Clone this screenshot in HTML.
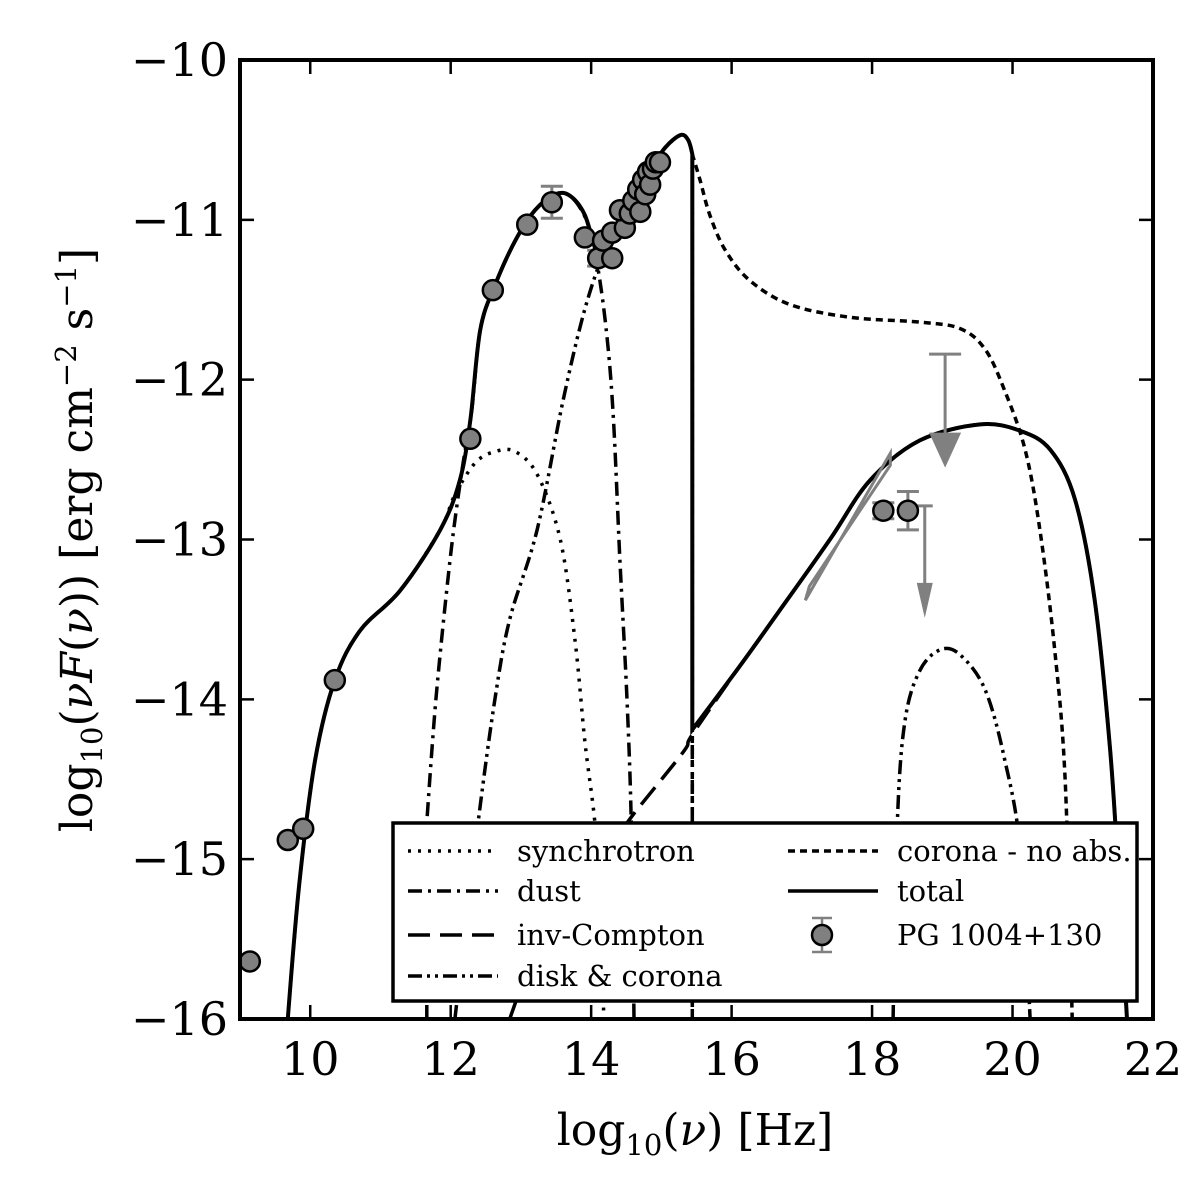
<!DOCTYPE html>
<html><head><meta charset="utf-8"><style>
body{margin:0;background:#fff}
svg{display:block}
text{font-family:"DejaVu Serif","Liberation Serif",serif;fill:#000}
</style></head><body>
<svg id="chart" width="1200" height="1200" viewBox="0 0 1200 1200" xmlns="http://www.w3.org/2000/svg">
<rect width="1200" height="1200" fill="#fff"/>
<defs><clipPath id="pc"><rect x="240" y="60" width="913" height="959"/></clipPath></defs>
<g id="curves" clip-path="url(#pc)"></g>
<g id="marks" clip-path="url(#pc)"></g>
<g id="axes"></g>
<g id="legend"></g>
<text x="695" y="1145" font-size="44" text-anchor="middle">log<tspan font-size="29" dy="10">10</tspan><tspan dy="-10">(</tspan><tspan font-style="italic">ν</tspan>) [Hz]</text>
<text transform="translate(92,540) rotate(-90)" font-size="44" text-anchor="middle">log<tspan font-size="29" dy="10">10</tspan><tspan dy="-10">(</tspan><tspan font-style="italic">νF</tspan>(<tspan font-style="italic">ν</tspan>)) [erg cm<tspan font-size="29" dy="-16">−2</tspan><tspan dy="16"> s</tspan><tspan font-size="29" dy="-16">−1</tspan><tspan dy="16">]</tspan></text>
</svg>
<script>
const xTicks=[10,12,14,16,18,20,22];
const yTicks=[-10,-11,-12,-13,-14,-15,-16];
const totalX=[9.68,9.85,10.07,10.35,10.71,11.28,11.85,12.13,12.28,12.42,12.63,12.92,13.20,13.49,13.70,13.91,14.10,14.27,14.56,14.84,15.05,15.27,15.38,15.44,15.44,16.12,16.69,17.40,17.97,18.68,19.54,20.11,20.54,20.89,21.17,21.39,21.53,21.63];
const totalY=[-16,-15.13,-14.38,-13.88,-13.57,-13.32,-12.94,-12.63,-12.25,-11.69,-11.41,-11.13,-10.94,-10.84,-10.85,-10.97,-11.22,-11.16,-10.91,-10.69,-10.55,-10.47,-10.50,-10.59,-14.19,-13.79,-13.44,-13.00,-12.63,-12.38,-12.28,-12.32,-12.44,-12.75,-13.38,-14.32,-15.26,-16];
const syncX=[9.68,9.85,10.07,10.35,10.71,11.28,11.85,12.06,12.35,12.63,12.92,13.24,13.56,13.77,13.91,14.05,14.13,14.18];
const syncY=[-16,-15.13,-14.38,-13.88,-13.57,-13.32,-12.94,-12.72,-12.52,-12.45,-12.45,-12.60,-13.00,-13.63,-14.26,-14.76,-15.26,-16];
const dustX=[11.66,11.66,11.79,11.99,12.16,12.30,12.42,12.63,12.92,13.20,13.49,13.70,13.91,14.05,14.20,14.31,14.41,14.51,14.57,14.61];
const dustY=[-16,-14.77,-14.0,-13.13,-12.57,-12.19,-11.69,-11.41,-11.13,-10.94,-10.84,-10.85,-10.98,-11.19,-11.63,-12.19,-13.13,-14.0,-14.76,-16];
const icX=[12.84,13.0,null,14.45,14.60,15.31,15.44,16.12,16.69,17.40,17.97,18.68,19.54,20.11,20.54,20.89,21.17,21.39,21.53,21.63];
const icY=[-16,-15.8,null,-14.82,-14.72,-14.33,-14.22,-13.79,-13.44,-13.00,-12.63,-12.38,-12.28,-12.32,-12.44,-12.75,-13.38,-14.32,-15.26,-16];
const diskX=[12.06,12.39,12.63,12.84,13.23,13.60,13.91,14.20,14.56,14.84,15.05,15.27,15.38,15.44,15.44,null,18.30,18.36,18.47,18.68,18.97,19.25,19.61,19.89,20.11,20.25];
const diskY=[-16,-14.77,-14.0,-13.50,-12.94,-12.13,-11.56,-11.19,-10.91,-10.69,-10.55,-10.47,-10.50,-10.59,-16,null,-16,-14.76,-14.13,-13.82,-13.69,-13.72,-13.94,-14.38,-14.94,-16];
const coronaX=[15.44,15.44,15.55,15.69,15.91,16.26,16.83,17.69,18.68,19.25,19.61,19.89,20.18,20.39,20.60,20.75,20.85];
const coronaY=[-16,-10.59,-10.75,-10.97,-11.19,-11.38,-11.53,-11.61,-11.64,-11.68,-11.81,-12.07,-12.44,-12.94,-13.69,-14.51,-16];
const obsX=[9.14,9.68,9.90,10.35,12.28,12.60,13.09,13.44,13.91,14.10,14.17,14.30,14.48,14.41,14.55,14.60,14.67,14.70,14.74,14.77,14.81,14.84,14.88,14.92,14.98,14.30,18.16,18.51];
const obsY=[-15.64,-14.88,-14.81,-13.88,-12.37,-11.44,-11.03,-10.89,-11.11,-11.24,-11.13,-11.08,-11.05,-10.94,-10.96,-10.88,-10.81,-10.95,-10.75,-10.84,-10.70,-10.78,-10.68,-10.64,-10.64,-11.24,-12.82,-12.82];
const obsErr=[0,0,0,0,0,0,0,0.1,0,0.05,0,0,0,0,0,0,0,0,0,0,0,0,0,0,0,0,0.05,0.12];
const limX=[19.04,18.75];
const limTop=[-11.84,-12.79];
const limBot=[-12.55,-13.49];
const bowX=[17.05,18.26];
const bowY=[-13.38,-12.46];

const X0=240,X1=1153,Y0=60,Y1=1019;
const sx=v=>X0+(v-9)/(22-9)*(X1-X0);
const sy=v=>Y0+(-10-v)/6*(Y1-Y0);
const NS='http://www.w3.org/2000/svg';
function mk(tag,parent){const e=document.createElementNS(NS,tag);parent.appendChild(e);return e;}
function smoothSeg(pts){
  if(pts.length<2)return '';
  const vert=i=>(i>=0&&i<pts.length-1)&&Math.abs(pts[i][0]-pts[i+1][0])<0.5;
  const tan=i=>{
    if(vert(i-1)||vert(i)||i==0||i==pts.length-1)return [0,0];
    return [(pts[i+1][0]-pts[i-1][0])/6,(pts[i+1][1]-pts[i-1][1])/6];
  };
  let d='M'+pts[0][0].toFixed(1)+' '+pts[0][1].toFixed(1);
  for(let i=0;i<pts.length-1;i++){
    const a=pts[i],b=pts[i+1];
    if(vert(i)){d+='L'+b[0].toFixed(1)+' '+b[1].toFixed(1);continue;}
    const t0=tan(i),t1=tan(i+1);
    d+='C'+(a[0]+t0[0]).toFixed(1)+' '+(a[1]+t0[1]).toFixed(1)+' '+(b[0]-t1[0]).toFixed(1)+' '+(b[1]-t1[1]).toFixed(1)+' '+b[0].toFixed(1)+' '+b[1].toFixed(1);
  }
  return d;
}
function pathD(xs,ys){let d='',seg=[];for(let i=0;i<=xs.length;i++){if(i==xs.length||xs[i]===null){d+=smoothSeg(seg);seg=[];continue;}seg.push([sx(xs[i]),sy(ys[i])]);}return d;}
const curves=document.getElementById('curves');
function line(xs,ys,dash,name,w){const p=mk('path',curves);p.setAttribute('d',pathD(xs,ys));p.setAttribute('fill','none');p.setAttribute('stroke','#000');p.setAttribute('stroke-width',w||3.5);if(dash)p.setAttribute('stroke-dasharray',dash);

}
line(syncX,syncY,'3 7','synchrotron-curve');
line(dustX,dustY,'14 6 3 6','dust-curve');
line(icX,icY,'22 10','inv-compton-curve');
line(diskX,diskY,'14 5 3 5 3 5','disk-corona-curve');
line(coronaX,coronaY,'7 5','corona-no-abs-curve');
line(totalX,totalY,null,'total-curve',4);

const marks=document.getElementById('marks');
const G='#808080';
const bw=mk('polygon',marks);
bw.setAttribute('points',`${sx(bowX[0])},${sy(bowY[0])} ${sx(bowX[1])},${sy(bowY[1])} ${sx(bowX[1])},${sy(bowY[1])+12} ${sx(bowX[0])+4},${sy(bowY[0])-14}`);
bw.setAttribute('fill','none');bw.setAttribute('stroke',G);bw.setAttribute('stroke-width',3);


for(let i=0;i<limX.length;i++){
  const g=mk('g',marks);
  
  
  const x=sx(limX[i]),t=sy(limTop[i]),b=sy(limBot[i]);const hw=i==0?16:8;
  const l=mk('path',g);l.setAttribute('d',`M${x-hw} ${t}H${x+hw}M${x} ${t}V${b-30}`);l.setAttribute('stroke',G);l.setAttribute('stroke-width',3);l.setAttribute('fill','none');
  const a=mk('polygon',g);a.setAttribute('points',`${x-hw} ${b-35},${x+hw} ${b-35},${x} ${b}`);a.setAttribute('fill',G);
}
for(let i=0;i<obsX.length;i++){
  const x=sx(obsX[i]),y=sy(obsY[i]);
  const g=mk('g',marks);
  
  
  if(obsErr[i]>0){const e=sy(obsY[i]+obsErr[i]),f=sy(obsY[i]-obsErr[i]);const p=mk('path',g);p.setAttribute('d',`M${x-11} ${e}H${x+11}M${x} ${e}V${f}M${x-11} ${f}H${x+11}`);p.setAttribute('stroke',G);p.setAttribute('stroke-width',3);}
  const c=mk('circle',g);c.setAttribute('cx',x);c.setAttribute('cy',y);c.setAttribute('r',10);c.setAttribute('fill',G);c.setAttribute('stroke','#000');c.setAttribute('stroke-width',2.5);
}

const axes=document.getElementById('axes');
const fr=mk('rect',axes);fr.setAttribute('x',X0);fr.setAttribute('y',Y0);fr.setAttribute('width',X1-X0);fr.setAttribute('height',Y1-Y0);fr.setAttribute('fill','none');fr.setAttribute('stroke','#000');fr.setAttribute('stroke-width',4);


xTicks.forEach(v=>{const x=sx(v);const t=mk('path',axes);t.setAttribute('d',`M${x} ${Y1}V${Y1-14}M${x} ${Y0}V${Y0+14}`);t.setAttribute('stroke','#000');t.setAttribute('stroke-width',2.5);
const tx=mk('text',axes);tx.textContent=v;tx.setAttribute('x',x);tx.setAttribute('y',1075);tx.setAttribute('font-size',46);tx.setAttribute('text-anchor','middle');

});
yTicks.forEach(v=>{const y=sy(v);const t=mk('path',axes);t.setAttribute('d',`M${X0} ${y}H${X0+14}M${X1} ${y}H${X1-14}`);t.setAttribute('stroke','#000');t.setAttribute('stroke-width',2.5);
const tx=mk('text',axes);tx.textContent='−'+Math.abs(v);tx.setAttribute('x',228);tx.setAttribute('y',y+16);tx.setAttribute('font-size',46);tx.setAttribute('text-anchor','end');

});

const lg=document.getElementById('legend');
const box=mk('rect',lg);box.setAttribute('x',393);box.setAttribute('y',823);box.setAttribute('width',744);box.setAttribute('height',178);box.setAttribute('fill','#fff');box.setAttribute('stroke','#000');box.setAttribute('stroke-width',3.5);
const entries=[['synchrotron','3 7',400,851],['dust','14 6 3 6',400,891],['inv-Compton','22 10',400,935],['disk & corona','14 5 3 5 3 5',400,976],['corona - no abs.','7 5',780,851],['total',null,780,891]];
entries.forEach(en=>{const l=mk('path',lg);l.setAttribute('d',`M${en[2]+8} ${en[3]}H${en[2]+98}`);l.setAttribute('stroke','#000');l.setAttribute('stroke-width',3.5);if(en[1])l.setAttribute('stroke-dasharray',en[1]);


const t=mk('text',lg);t.textContent=en[0];t.setAttribute('x',en[2]+117);t.setAttribute('y',en[3]+10);t.setAttribute('font-size',29);t.setAttribute('font-family','Liberation Serif, serif');

});
const le=mk('path',lg);le.setAttribute('d','M812 918H832M822 918V952M812 952H832');le.setAttribute('stroke',G);le.setAttribute('stroke-width',2.5);
const lc=mk('circle',lg);lc.setAttribute('cx',822);lc.setAttribute('cy',935);lc.setAttribute('r',10);lc.setAttribute('fill',G);lc.setAttribute('stroke','#000');lc.setAttribute('stroke-width',2.5);
const lt=mk('text',lg);lt.textContent='PG 1004+130';lt.setAttribute('x',897);lt.setAttribute('y',945);lt.setAttribute('font-size',29);lt.setAttribute('font-family','Liberation Serif, serif');


</script>
</body></html>
